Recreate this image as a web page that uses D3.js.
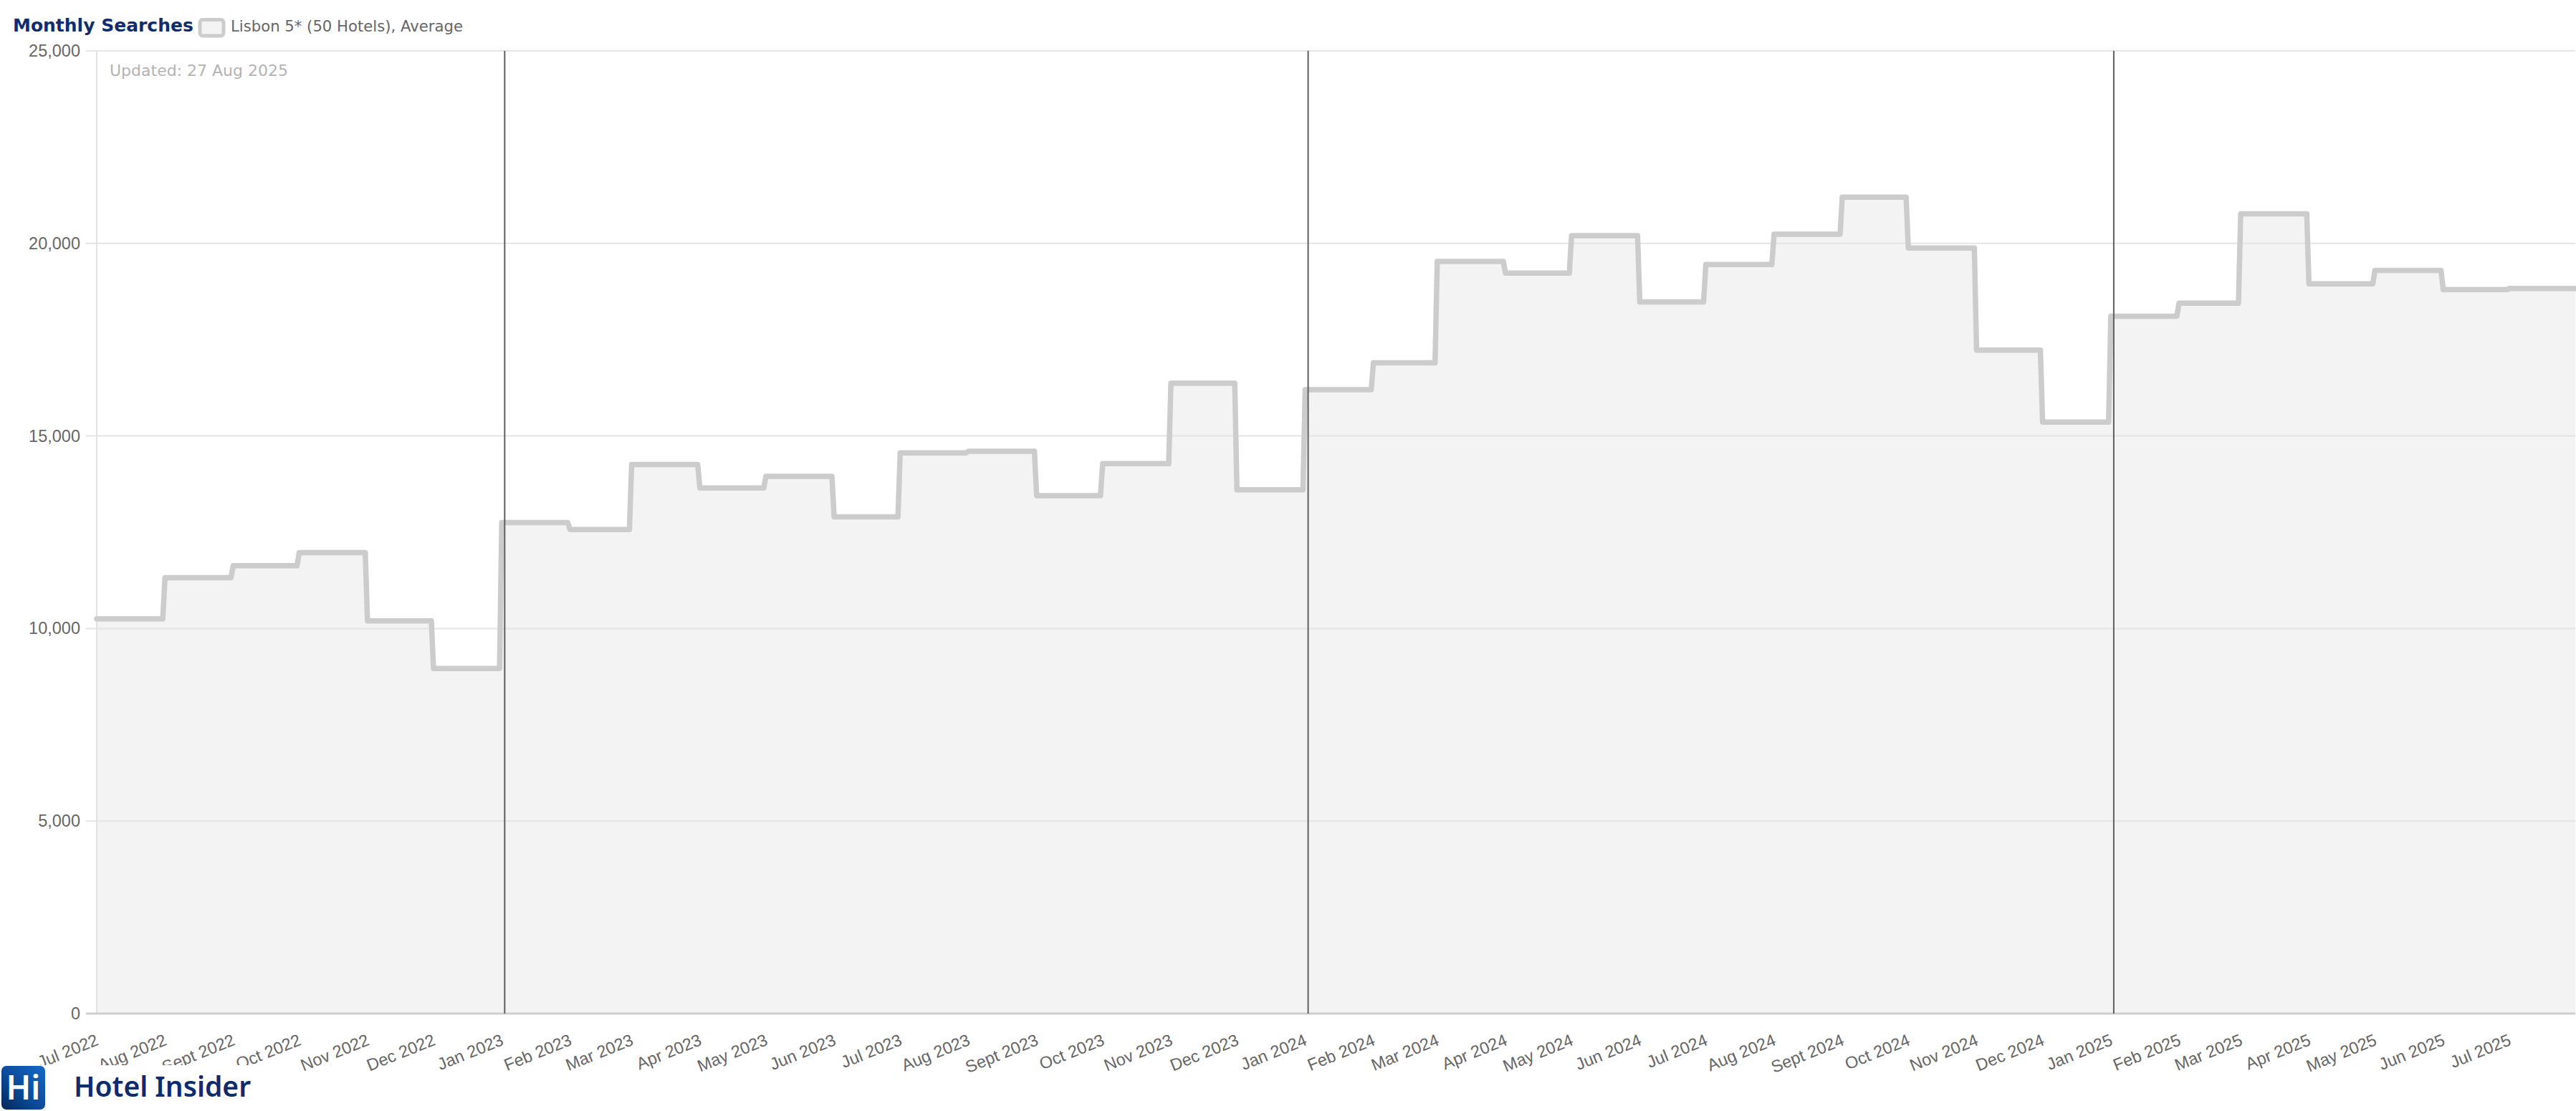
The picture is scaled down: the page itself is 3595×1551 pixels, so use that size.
<!DOCTYPE html>
<html><head><meta charset="utf-8">
<script src="https://cdn.jsdelivr.net/npm/d3@7"></script>
<style>html,body{margin:0;padding:0;background:#fff;} svg{display:block}</style>
</head><body>
<svg id="chart" width="3595" height="1551"></svg>
<script>
const monthLabels = ["Jul 2022","Aug 2022","Sept 2022","Oct 2022","Nov 2022","Dec 2022",
  "Jan 2023","Feb 2023","Mar 2023","Apr 2023","May 2023","Jun 2023","Jul 2023","Aug 2023","Sept 2023","Oct 2023","Nov 2023","Dec 2023",
  "Jan 2024","Feb 2024","Mar 2024","Apr 2024","May 2024","Jun 2024","Jul 2024","Aug 2024","Sept 2024","Oct 2024","Nov 2024","Dec 2024",
  "Jan 2025","Feb 2025","Mar 2025","Apr 2025","May 2025","Jun 2025","Jul 2025"];
const searches = [10250,11320,11630,11970,10200,8960,
  12750,12570,14260,13650,13950,12900,14560,14600,13450,14280,16370,13600,
  16200,16900,19530,19230,20200,18480,19450,20240,21200,19880,17230,15360,
  18110,18450,20770,18950,19300,18800,18830];
const yTickValues = [0,5000,10000,15000,20000,25000];
const yearMarkers = ["Jan 2023","Jan 2024","Jan 2025"];
const seriesName = "Lisbon 5* (50 Hotels), Average";
const chartTitle = "Monthly Searches";
const updatedText = "Updated: 27 Aug 2025";

(function(){
const W = 3595, H = 1551;
const pLeft = 135, pRight = 3594, pTop = 71, pBottom = 1415;
const svg = d3.select("#chart");

const monthStarts = d3.timeMonth.range(new Date(2022,6,1), new Date(2025,7,1));
const data = monthStarts.map((d,i)=>({date:d, end:d3.timeDay.offset(d3.timeMonth.offset(d,1),-1), v:searches[i], label:monthLabels[i]}));
const pts = data.flatMap(d=>[[d.date,d.v],[d.end,d.v]]);

const x = d3.scaleTime().domain([data[0].date, data[data.length-1].end]).range([pLeft, pRight]);
const y = d3.scaleLinear().domain([0,25000]).range([pBottom, pTop]);

// area fill
svg.append("path").datum(pts)
  .attr("d", d3.area().x(d=>x(d[0])).y0(y(0)).y1(d=>y(d[1])))
  .attr("fill","rgba(0,0,0,0.048)");

// grid lines
svg.append("g").selectAll("line").data(yTickValues.filter(v=>v>0)).join("line")
  .attr("x1", pLeft-15).attr("x2", pRight).attr("y1", d=>y(d)).attr("y2", d=>y(d))
  .attr("stroke","#e4e4e4").attr("stroke-width",2);
// left border
svg.append("line").attr("x1",pLeft).attr("x2",pLeft).attr("y1",pTop).attr("y2",pBottom)
  .attr("stroke","#e2e2e2").attr("stroke-width",2);
// bottom axis line
svg.append("line").attr("x1",pLeft-15).attr("x2",pRight).attr("y1",y(0)).attr("y2",y(0))
  .attr("stroke","#d0d0d0").attr("stroke-width",3);

// y labels
svg.append("g").selectAll("text").data(yTickValues).join("text")
  .attr("x", pLeft-23).attr("y", d=>y(d)).attr("text-anchor","end").attr("dominant-baseline","central")
  .attr("font-family","'Liberation Sans', Arial, sans-serif").attr("font-size",23.5).attr("fill","#666")
  .text(d=>d3.format(",")(d));

// step line
svg.append("path").datum(pts)
  .attr("d", d3.line().x(d=>x(d[0])).y(d=>y(d[1])))
  .attr("fill","none").attr("stroke","#cccccc").attr("stroke-width",7.5)
  .attr("stroke-linejoin","round").attr("stroke-linecap","round");

// year markers
const markerDates = yearMarkers.map(l=>data.find(d=>d.label===l).date);
svg.append("g").selectAll("line").data(markerDates).join("line")
  .attr("x1", d=>x(d3.timeHour.offset(d,32))).attr("x2", d=>x(d3.timeHour.offset(d,32)))
  .attr("y1", pTop).attr("y2", pBottom)
  .attr("stroke","#5e5e5e").attr("stroke-width",2);

// x labels
svg.append("g").selectAll("text").data(data).join("text")
  .attr("transform", d=>`translate(${x(d.date)+4},1458) rotate(-22)`)
  .attr("text-anchor","end")
  .attr("font-family","'Liberation Sans', Arial, sans-serif").attr("font-size",23.5).attr("fill","#666")
  .text(d=>d.label);

// title + legend
svg.append("text").attr("x",18).attr("y",44).attr("font-family","'DejaVu Sans', sans-serif")
  .attr("font-weight","bold").attr("font-size",25).attr("fill","#0f2d6e").text(chartTitle);
svg.append("rect").attr("x",279).attr("y",27.5).attr("width",33).attr("height",22.5).attr("rx",4)
  .attr("fill","#f3f3f3").attr("stroke","#cccccc").attr("stroke-width",5);
svg.append("text").attr("x",322).attr("y",44).attr("font-family","'DejaVu Sans', sans-serif")
  .attr("font-size",21.2).attr("fill","#666").text(seriesName);
svg.append("text").attr("x",153).attr("y",106).attr("font-family","'DejaVu Sans', sans-serif")
  .attr("font-size",22).attr("fill","#b3b3b3").text(updatedText);

// logo footer
svg.append("rect").attr("x",0).attr("y",1487).attr("width",405).attr("height",H-1487).attr("fill","#fff");
const defs = svg.append("defs");
const grad = defs.append("linearGradient").attr("id","lg").attr("x1","1").attr("y1","0").attr("x2","0").attr("y2","1");
grad.append("stop").attr("offset","0").attr("stop-color","#1569c8");
grad.append("stop").attr("offset","0.55").attr("stop-color","#0c4a98");
grad.append("stop").attr("offset","1").attr("stop-color","#06275a");
svg.append("rect").attr("x",2).attr("y",1488).attr("width",61).attr("height",61).attr("rx",7).attr("fill","url(#lg)");
svg.append("text").attr("x",32.5).attr("y",1535).attr("text-anchor","middle").attr("font-family","'Noto Sans', sans-serif")
  .attr("font-weight","600").attr("font-size",46).attr("fill","#fff").text("Hi");
svg.append("text").attr("x",103).attr("y",1531).attr("font-family","'Noto Sans', sans-serif")
  .attr("font-weight","600").attr("font-size",39).attr("fill","#0d2b6f").text("Hotel Insider");
})();
</script>
</body></html>
